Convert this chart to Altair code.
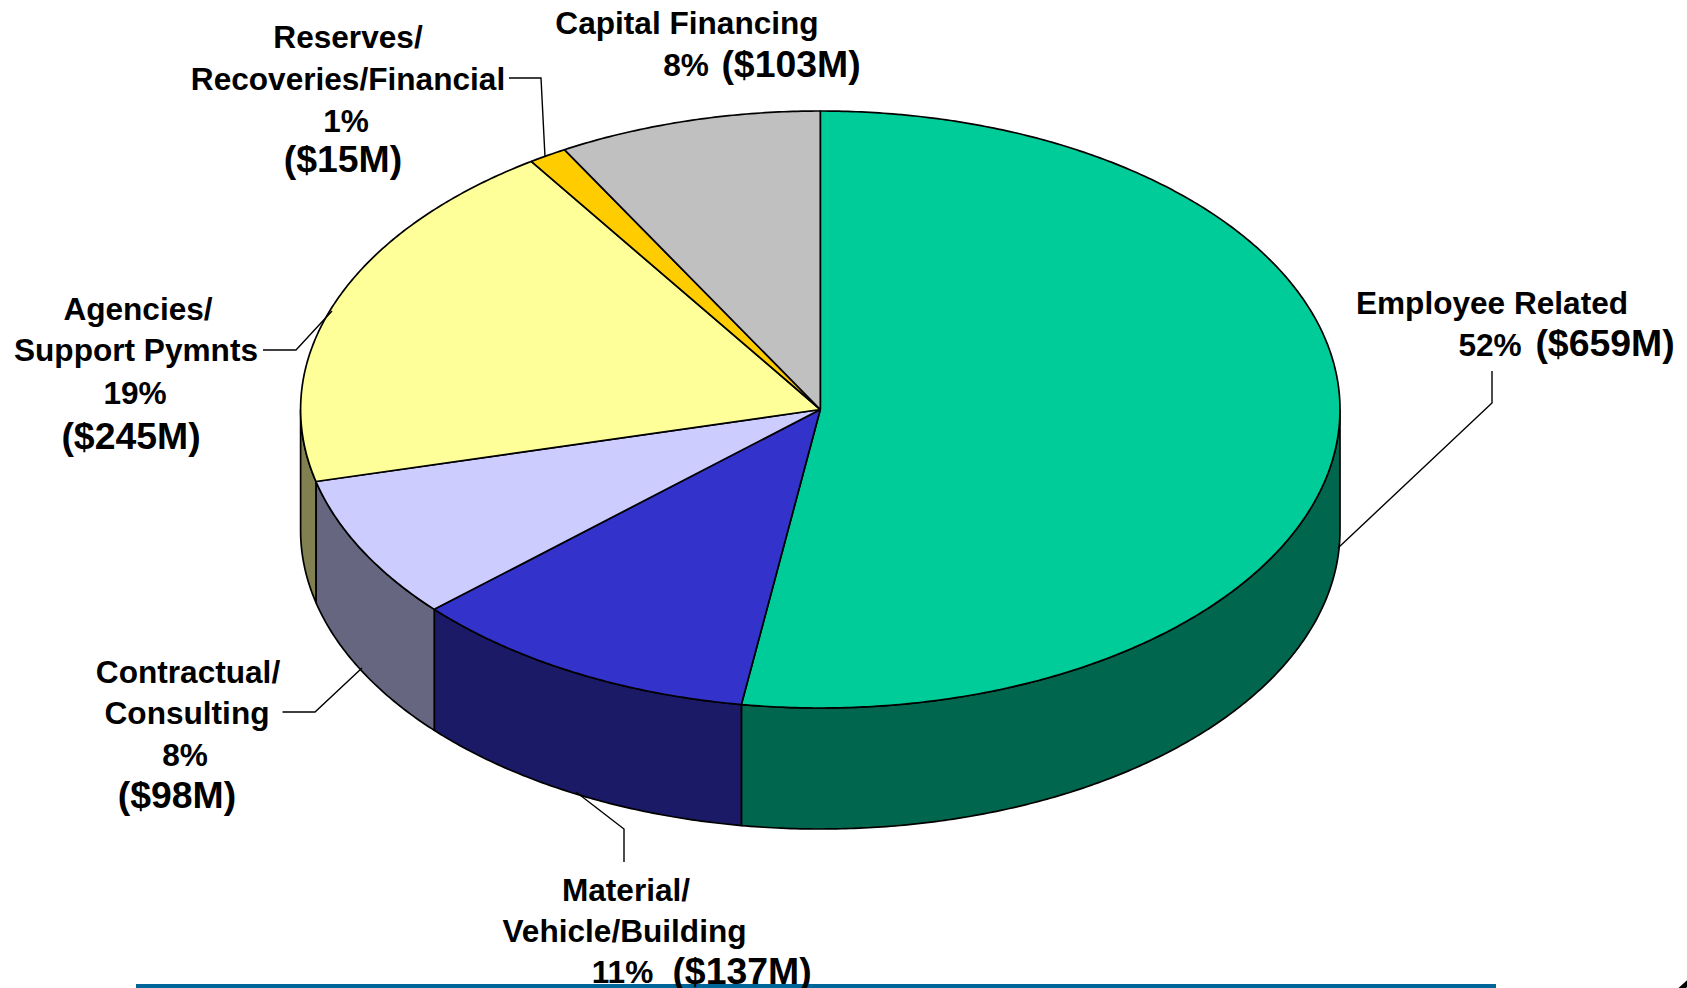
import numpy as np
import pandas as pd
import altair as alt

# Operating budget by category, clockwise from twelve o'clock ($M)
categories = ["Employee Related", "Material/Vehicle/Building", "Contractual/Consulting",
              "Agencies/Support Pymnts", "Reserves/Recoveries/Financial", "Capital Financing"]
amounts = [659, 137, 98, 245, 15, 103]
top_colors = ["#00CC99", "#3333CC", "#CCCCFF", "#FFFF99", "#FFCC00", "#C0C0C0"]
side_colors = ["#00664D", "#1A1A66", "#666680", "#808050", "#806600", "#606060"]

label_text = [
    "Capital Financing", "8%", "($103M)",
    "Reserves/", "Recoveries/Financial", "1%", "($15M)",
    "Agencies/", "Support Pymnts", "19%", "($245M)",
    "Contractual/", "Consulting", "8%", "($98M)",
    "Material/", "Vehicle/Building", "11%", "($137M)",
    "Employee Related", "52%", "($659M)",
]

W, H = 1687, 988
CX, CY, RX, RY, DEPTH = 820.3, 409.5, 519.7, 298.5, 121.0

# Label placement: centre x, baseline y, font size
label_x = [687, 686, 791, 348, 348, 346, 343, 138, 136, 135, 131,
           188, 187, 185, 177, 626, 624.5, 622.5, 742, 1492, 1490, 1605]
label_y = [34, 76, 77, 48, 90, 132, 172, 320, 361, 404, 449,
           683, 724, 766, 808, 901, 942, 983, 984, 314, 356, 356]
label_size = [31.6, 31.6, 37.4, 31.6, 31.6, 31.6, 37.4, 31.6, 31.6, 31.6, 37.4,
              31.6, 31.6, 31.6, 37.4, 31.6, 31.6, 31.6, 37.4, 31.6, 31.6, 37.4]

# Leader lines from each label to its slice
leaders = [
    [(1492, 371), (1492, 403), (1338, 548)],
    [(576, 792), (624, 829), (624, 862)],
    [(362, 668), (315, 712), (282.5, 712)],
    [(332, 311), (296, 350), (263, 350)],
    [(545, 157), (541, 78), (509, 78)],
]


def rim(angle_deg, drop=0.0):
    """Point on the pie's elliptical rim, angle measured clockwise from the top."""
    t = np.radians(angle_deg)
    return CX + RX * np.sin(t), CY - RY * np.cos(t) + drop


edges = np.concatenate([[0], np.cumsum(amounts)]) / np.sum(amounts) * 360

top_rows, wall_rows = [], []
for name, a0, a1 in zip(categories, edges[:-1], edges[1:]):
    arc = np.linspace(a0, a1, max(int((a1 - a0) * 2), 2) + 1)
    outline = [(CX, CY)] + [rim(a) for a in arc] + [(CX, CY)]
    top_rows += [{"cat": name, "i": i, "x": x, "y": y} for i, (x, y) in enumerate(outline)]

    # Only the part of the rim facing the viewer shows a side wall
    lo, hi = max(a0, 90.0), min(a1, 270.0)
    if lo < hi:
        front = np.linspace(lo, hi, max(int((hi - lo) * 2), 2) + 1)
        wall = [rim(a) for a in front] + [rim(a, DEPTH) for a in front[::-1]]
        wall.append(wall[0])
        wall_rows += [{"cat": name, "i": i, "x": x, "y": y} for i, (x, y) in enumerate(wall)]

top_df = pd.DataFrame(top_rows)
wall_df = pd.DataFrame(wall_rows)
leader_df = pd.DataFrame(
    [{"leader": k, "i": i, "x": x, "y": y} for k, pts in enumerate(leaders) for i, (x, y) in enumerate(pts)]
)
label_df = pd.DataFrame({"text": label_text, "x": label_x, "y": label_y, "size": label_size})
band_df = pd.DataFrame({"x": [136], "x2": [1496], "y": [986]})
corner_df = pd.DataFrame({"x": [1680, 1690], "y": [990, 981], "i": [0, 1]})

x_scale = alt.Scale(domain=[0, W], range=[0, W], nice=False, zero=False)
y_scale = alt.Scale(domain=[0, H], range=[0, H], nice=False, zero=False)
X = alt.X("x:Q", scale=x_scale, axis=None)
Y = alt.Y("y:Q", scale=y_scale, axis=None)


def surface(df, colors, width):
    return alt.Chart(df).mark_line(strokeWidth=width, strokeJoin="round").encode(
        x=X, y=Y, order="i:Q",
        fill=alt.Fill("cat:N", scale=alt.Scale(domain=categories, range=colors), legend=None),
        stroke=alt.value("#000000"),
    )


walls = surface(wall_df, side_colors, 1.7)
tops = surface(top_df, top_colors, 1.7)

leader_lines = alt.Chart(leader_df).mark_line(color="#000000", strokeWidth=1.4).encode(
    x=X, y=Y, order="i:Q", detail="leader:N"
)

band = alt.Chart(band_df).mark_rule(color="#006699", strokeWidth=4).encode(
    x=X, x2="x2:Q", y=Y
)

corner = alt.Chart(corner_df).mark_line(color="#000000", strokeWidth=5).encode(
    x=X, y=Y, order="i:Q"
)

labels = alt.Chart(label_df).mark_text(
    font="Liberation Sans", fontWeight="bold", align="center", baseline="alphabetic", color="#000000"
).encode(
    x=X, y=Y, text="text:N",
    size=alt.Size("size:Q", scale=None, legend=None),
)

chart = (
    alt.layer(walls, tops, leader_lines, band, corner, labels)
    .resolve_scale(fill="independent")
    .properties(width=W, height=H, padding=0, background="#FFFFFF",
                autosize=alt.AutoSizeParams(type="none"))
    .configure_view(stroke=None)
)

chart.save("out.html", embed_options={"renderer": "svg", "actions": False})
